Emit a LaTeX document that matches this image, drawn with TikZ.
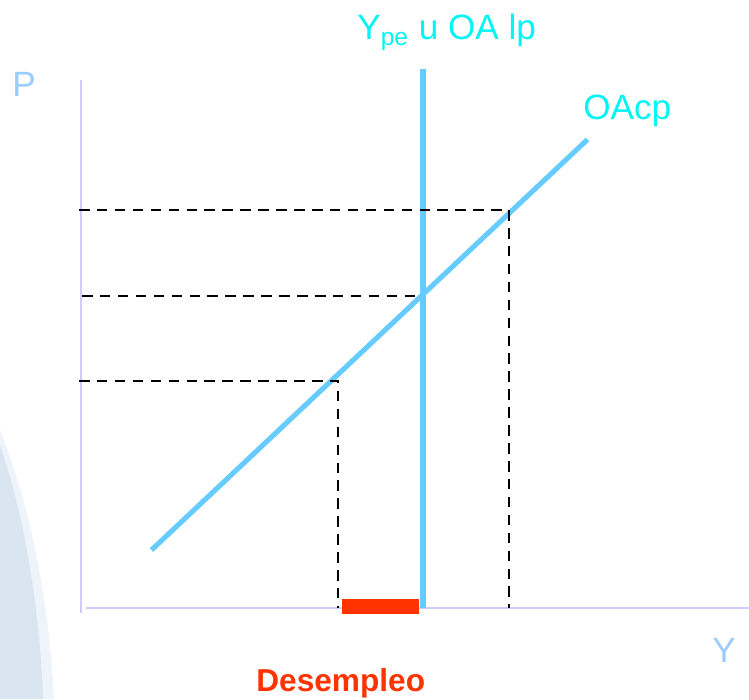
\documentclass[tikz,border=0pt]{standalone}
\usepackage{fontspec}
\setmainfont{Liberation Sans}
\usepackage{tikz}
\usetikzlibrary{positioning}
\definecolor{CurveBlue}{HTML}{66CCFF}
\definecolor{AxisLilac}{HTML}{CCCCFF}
\definecolor{AxisName}{HTML}{99CCFF}
\definecolor{LabelCyan}{HTML}{00F5F5}
\definecolor{GapRed}{HTML}{FF3300}
\definecolor{Wash}{HTML}{D9E6F2}
\tikzset{
  axisline/.style={AxisLilac, line width=1.5pt},
  supply/.style={CurveBlue, line width=2.9pt},
  guide/.style={black, line width=1.5pt, dash pattern=on 6pt off 4.2pt},
  lbl/.style={inner sep=0pt, anchor=base west},
}

\begin{document}
\begin{tikzpicture}[x=0.02cm, y=-0.02cm, font=\fontsize{20}{24}\selectfont]
  \useasboundingbox (0,0) rectangle (749,699);
  % faint backdrop on the left
  \fill[Wash!45] (0,430) .. controls (34,515) and (50,615) .. (54,699) -- (0,699) -- cycle;
  \fill[Wash] (0,445) .. controls (26,520) and (40,615) .. (43,699) -- (0,699) -- cycle;
  % axes
  \coordinate (ptop) at (81,80);
  \coordinate (pbot) at (81,613);
  \coordinate (yleft) at (86,608);
  \coordinate (yright) at (749,608);
  \draw[axisline] (ptop) -- (pbot);
  \draw[axisline] (yleft) -- (yright);
  \node[lbl, text=AxisName] (pname) at (12,97) {P};
  \node[lbl, text=AxisName] (yname) at (712,662) {Y};
  % unemployment gap
  \fill[GapRed] (342,599) rectangle (419,614);
  \node[lbl, text=GapRed, font=\fontsize{18}{20}\selectfont\bfseries] (gap) at (256,691) {Desempleo};
  % long-run supply
  \coordinate (lptop) at (423,69);
  \coordinate (lpbot) at (423,608);
  \draw[supply] (lptop) -- (lpbot);
  \node[lbl, text=LabelCyan] (lp) at (357,40) {Y\textsubscript{pe} u OA lp};
  % short-run supply
  \coordinate (cpstart) at (151.5,550);
  \coordinate (cpend) at (587.5,139.5);
  \draw[supply] (cpstart) -- (cpend);
  \node[lbl, text=LabelCyan] (cp) at (583,120) {OAcp};
  % price levels
  \coordinate (hi) at (509,210);
  \coordinate (mid) at (420,296);
  \coordinate (lo) at (338,381);
  \draw[guide] (79,210) -- (hi) -- (509,608);
  \draw[guide] (82,296) -- (mid);
  \draw[guide] (79,381) -- (lo) -- (338,608);
\end{tikzpicture}
\end{document}
